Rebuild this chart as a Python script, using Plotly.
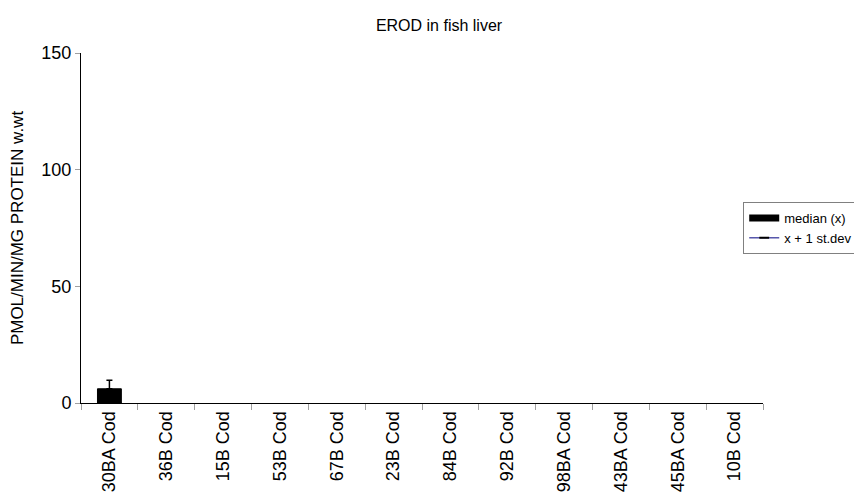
import plotly.graph_objects as go

stations = ["30BA Cod", "36B Cod", "15B Cod", "53B Cod", "67B Cod", "23B Cod",
            "84B Cod", "92B Cod", "98BA Cod", "43BA Cod", "45BA Cod", "10B Cod"]
median_x = [6.1, None, None, None, None, None, None, None, None, None, None, None]
st_dev = [3.6, None, None, None, None, None, None, None, None, None, None, None]

FONT = "Liberation Sans, Arial, sans-serif"

fig = go.Figure()

fig.add_trace(go.Bar(
    x=stations,
    y=median_x,
    name="median (x)",
    showlegend=False,
    marker={"color": "#000000", "line": {"color": "#000000", "width": 1}},
    error_y={
        "type": "data",
        "symmetric": False,
        "array": st_dev,
        "arrayminus": [0] * len(st_dev),
        "color": "#000000",
        "thickness": 1.5,
        "width": 3,
    },
))

# legend entries (wide black block for the bars, navy line for st.dev)
fig.add_trace(go.Scatter(
    x=[None], y=[None],
    name="median (x)",
    mode="lines",
    line={"color": "#000000", "width": 7},
))
fig.add_trace(go.Scatter(
    x=[None], y=[None],
    name="x + 1 st.dev",
    mode="lines+markers",
    line={"color": "#000080", "width": 1},
    marker={"symbol": "line-ew", "color": "#000000", "size": 7,
            "line": {"color": "#000000", "width": 2}},
))

fig.update_layout(
    title={"text": "EROD in fish liver", "x": 0.5, "xanchor": "center",
           "y": 0.965, "yanchor": "middle",
           "font": {"size": 16, "family": FONT, "color": "#000000"}},
    width=862,
    height=495,
    paper_bgcolor="#ffffff",
    plot_bgcolor="#ffffff",
    font={"family": FONT, "color": "#000000", "size": 18},
    margin={"l": 73, "r": 107, "t": 45, "b": 100, "autoexpand": False},
    bargap=0.58,
    showlegend=True,
    legend={
        "x": 0.971, "xanchor": "left",
        "y": 0.5, "yanchor": "middle",
        "bordercolor": "#808080", "borderwidth": 1,
        "bgcolor": "#ffffff",
        "font": {"size": 13, "family": FONT},
        "itemwidth": 30,
        "tracegroupgap": 0,
    },
    xaxis={
        "type": "category",
        "showline": True, "linecolor": "#000000", "linewidth": 1,
        "ticks": "outside", "tickson": "boundaries", "ticklen": 6,
        "tickcolor": "#a0a0a0",
        "tickangle": -90,
        "tickfont": {"size": 18},
        "showgrid": False,
        "range": [-0.5, 11.5],
    },
    yaxis={
        "range": [0, 150],
        "tickvals": [0, 50, 100, 150],
        "showline": True, "linecolor": "#000000", "linewidth": 1,
        "ticks": "outside", "ticklen": 5, "tickcolor": "#a0a0a0",
        "showgrid": False, "zeroline": False,
        "tickfont": {"size": 18},
        "title": {"text": "PMOL/MIN/MG PROTEIN w.wt", "font": {"size": 17}, "standoff": 14},
    },
)

fig.write_html("out.html")
